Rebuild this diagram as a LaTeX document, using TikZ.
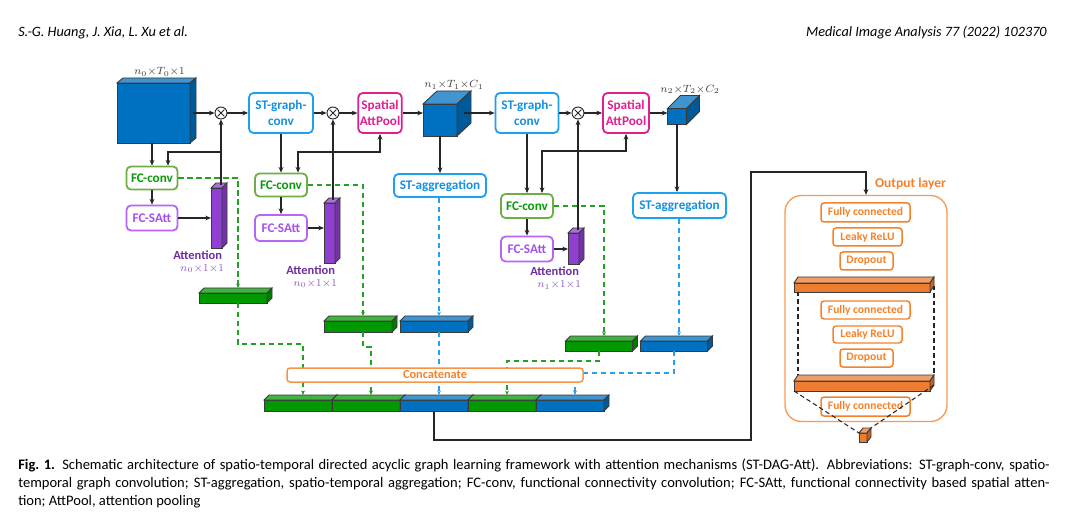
\documentclass[tikz,border=0pt]{standalone}
\usepackage{fontspec}
\setmainfont{Carlito}
\usetikzlibrary{positioning,arrows.meta,calc}
\definecolor{cBlue}{HTML}{0070C0}
\definecolor{cGreen}{HTML}{009A00}
\definecolor{cPurple}{HTML}{9040D0}
\definecolor{cOrange}{HTML}{ED7D31}
\definecolor{cConv}{HTML}{1EA0F0}
\definecolor{cConvT}{HTML}{1590E0}
\definecolor{cPool}{HTML}{E0208F}
\definecolor{cFC}{HTML}{70AD47}
\definecolor{cFCT}{HTML}{0A9A0A}
\definecolor{cSAtt}{HTML}{B865F5}
\definecolor{cSAttT}{HTML}{A650EC}
\definecolor{cAtt}{HTML}{7030A0}
\definecolor{cAttL}{HTML}{8C5CC0}
\definecolor{cOut}{HTML}{F5822A}
\definecolor{cLine}{HTML}{262626}
\definecolor{cEdge}{HTML}{3A3A3A}
\definecolor{cDim}{HTML}{404040}
\definecolor{cDashG}{HTML}{25A025}
\definecolor{cDashB}{HTML}{2A9FEF}
\newcommand{\pxu}{0.667pt}
\tikzset{
  blk/.style={rounded corners=3pt, draw, line width=1.2pt, fill=white, align=center,
              inner sep=1pt, font=\bfseries\fontsize{8.8}{10.5}\selectfont},
  gconv/.style={blk, draw=cConv, text=cConvT},
  apool/.style={blk, draw=cPool, text=cPool},
  fconv/.style={blk, draw=cFC, text=cFCT},
  fsatt/.style={blk, draw=cSAtt, text=cSAttT},
  catb/.style={blk, draw=cOut!85!white, text=cOut, rounded corners=2pt, line width=1pt,
               inner sep=0.5pt, font=\bfseries\fontsize{8.2}{9.5}\selectfont},
  outb/.style={blk, draw=cOut, text=cOut, line width=1pt, rounded corners=2pt, inner sep=0.5pt,
               font=\bfseries\fontsize{7.7}{9}\selectfont},
  face/.style={draw=cEdge, line width=0.6pt, inner sep=0pt, outer sep=0pt},
  dim/.style={font=\fontsize{7.5}{9}\selectfont, text=cDim, inner sep=1pt},
  attl/.style={font=\bfseries\fontsize{8.3}{10}\selectfont, text=cAtt, inner sep=0.5pt},
  otm/.style={circle, draw=cLine, line width=0.6pt, fill=white, minimum size=12*\pxu, inner sep=0pt,
              path picture={\draw[line width=0.6pt, cLine]
                ([shift={(-3.3,-3.3)}]path picture bounding box.center) -- ([shift={(3.3,3.3)}]path picture bounding box.center)
                ([shift={(-3.3,3.3)}]path picture bounding box.center) -- ([shift={(3.3,-3.3)}]path picture bounding box.center);}},
  ar/.style={-{Stealth[length=3.8pt,width=3.2pt]}, line width=0.8pt, draw=cLine},
  arb/.style={{Stealth[length=3.8pt,width=3.2pt]}-{Stealth[length=3.8pt,width=3.2pt]}, line width=0.8pt, draw=cLine},
  dg/.style={-{Stealth[length=3pt,width=2.6pt]}, line width=0.9pt, draw=cDashG, dash pattern=on 3.5pt off 2.5pt},
  db/.style={-{Stealth[length=3pt,width=2.6pt]}, line width=0.9pt, draw=cDashB, dash pattern=on 3.5pt off 2.5pt},
  dk/.style={line width=0.7pt, draw=black!85, dash pattern=on 3pt off 2pt},
  hdr/.style={font=\itshape\fontsize{9.5}{11}\selectfont, inner sep=0pt},
  capt/.style={align=left, inner sep=0pt, font=\fontsize{9.7}{11.7}\selectfont},
}
% front face as a node, top and right faces drawn from its anchors
% #1 name, #2 #3 centre, #4 #5 size, #6 #7 depth, #8 colour
\newcommand{\slab}[8]{%
  \node[face, fill=#8, minimum width=#4*\pxu, minimum height=#5*\pxu] (#1) at (#2,#3) {};
  \draw[face, fill=#8!75!white] (#1.north west) -- ++(#6,#7) -- ([shift={(#6,#7)}]#1.north east) -- (#1.north east) -- cycle;
  \draw[face, fill=#8!80!black] (#1.north east) -- ++(#6,#7) -- ([shift={(#6,#7)}]#1.south east) -- (#1.south east) -- cycle;
  \coordinate (#1-t) at ([shift={(#6/2,#7/2)}]#1.north);
  \coordinate (#1-b) at ([shift={(#6,#7)}]#1.north);
  \coordinate (#1-r) at ([shift={(#6/2,#7/2)}]#1.east);
  \coordinate (#1-nw) at ([shift={(#6,#7)}]#1.north west);
  \coordinate (#1-ne) at ([shift={(#6,#7)}]#1.north east);
  \coordinate (#1-se) at ([shift={(#6,#7)}]#1.south east);
}
\newcommand{\capline}[1]{\makebox[688pt][s]{#1}}

\begin{document}
\begin{tikzpicture}[x=\pxu, y=-\pxu]
  \useasboundingbox (0,0) rectangle (1092,530);
  \fill[white] (0,0) rectangle (1092,530);

  \node[hdr, anchor=west] (hdl) at (18,33) {S.-G. Huang, J. Xia, L. Xu et al.};
  \node[hdr, anchor=east] (hdrr) at (1047,33) {Medical Image Analysis 77 (2022) 102370};

  % main row
  \slab{in0}{153.5}{113}{73}{60}{6}{-5}{cBlue}
  \node[dim, above=0pt of in0-b] (din0) {$n_0{\times}T_0{\times}1$};
  \node[otm] (ot1) at (221,113) {};
  \node[gconv, minimum width=64*\pxu, minimum height=40*\pxu] (gc1) at (281,113) {ST-graph-\\conv};
  \node[otm] (ot2) at (333,113) {};
  \node[apool, minimum width=43*\pxu, minimum height=40*\pxu] (ap1) at (380,113) {Spatial\\AttPool};
  \slab{cb1}{440}{120}{34}{32}{14}{-13}{cBlue}
  \node[dim, above=0pt of cb1-b] (dcb1) {$n_1{\times}T_1{\times}C_1$};
  \node[gconv, minimum width=63*\pxu, minimum height=40*\pxu] (gc2) at (527,113) {ST-graph-\\conv};
  \node[otm] (ot3) at (578,113) {};
  \node[apool, minimum width=46*\pxu, minimum height=40*\pxu] (ap2) at (626,113) {Spatial\\AttPool};
  \slab{cb2}{677}{116.5}{19}{16}{13}{-13}{cBlue}
  \node[dim, above=0pt of cb2-b] (dcb2) {$n_2{\times}T_2{\times}C_2$};

  \node[gconv, minimum width=92*\pxu, minimum height=23*\pxu] (sa1) at (440,185.5) {ST-aggregation};
  \node[gconv, minimum width=93*\pxu, minimum height=25*\pxu] (sa2) at (679.5,205.5) {ST-aggregation};

  % attention branches
  \node[fconv, minimum width=51*\pxu, minimum height=23*\pxu] (fc1) at (152,178) {FC-conv};
  \node[fsatt, minimum width=51*\pxu, minimum height=25*\pxu] (fs1) at (152,218) {FC-SAtt};
  \slab{at1}{216.5}{218}{11}{60}{5}{-5}{cPurple}
  \node[attl, anchor=north east] (al1) at ([shift={(1,2)}]at1.south east) {Attention};
  \node[dim, text=cAttL, anchor=north east] (dl1) at ([shift={(3,2)}]al1.south east) {$n_0{\times}1{\times}1$};

  \node[fconv, minimum width=52*\pxu, minimum height=23*\pxu] (fc2) at (281,185) {FC-conv};
  \node[fsatt, minimum width=52*\pxu, minimum height=26*\pxu] (fs2) at (281,228) {FC-SAtt};
  \slab{at2}{329.5}{233}{11}{60}{5}{-5}{cPurple}
  \node[attl, anchor=north east] (al2) at ([shift={(1,2)}]at2.south east) {Attention};
  \node[dim, text=cAttL, anchor=north east] (dl2) at ([shift={(3,2)}]al2.south east) {$n_0{\times}1{\times}1$};

  \node[fconv, minimum width=52*\pxu, minimum height=24*\pxu] (fc3) at (527,206) {FC-conv};
  \node[fsatt, minimum width=52*\pxu, minimum height=25*\pxu] (fs3) at (527,249) {FC-SAtt};
  \slab{at3}{573.5}{248.5}{11}{31}{5}{-5}{cPurple}
  \node[attl, anchor=north east] (al3) at ([shift={(1,2)}]at3.south east) {Attention};
  \node[dim, text=cAttL, anchor=north east] (dl3) at ([shift={(3,2)}]al3.south east) {$n_1{\times}1{\times}1$};

  \draw[ar] (in0-r |- ot1) -- (ot1);
  \draw[ar] (ot1) -- (gc1);
  \draw[ar] (gc1) -- (ot2);
  \draw[ar] (ot2) -- (ap1);
  \draw[ar] (ap1) -- (ap1 -| cb1.west);
  \draw[ar] (cb1-r |- gc2) -- (gc2);
  \draw[ar] (gc2) -- (ot3);
  \draw[ar] (ot3) -- (ap2);
  \draw[ar] (ap2) -- (ap2 -| cb2.west);
  \draw[ar] (cb1.south) -- (sa1);
  \draw[ar] (cb2.south) -- (cb2.south |- sa2.north);

  \coordinate (j1) at (ot1 |- 0,152);
  \draw[ar] (fc1 |- in0.south) -- (fc1);
  \draw[ar] (ot1 |- at1-t) -- (ot1);
  \draw[ar] (j1) -| ([shift={(16,0)}]fc1.north);
  \draw[ar] (fc1) -- (fs1);
  \draw[ar] (fs1) -- (fs1 -| at1.west);

  \draw[ar] (gc1) -- (fc2);
  \draw[arb] (ap1.south) -- (ap1.south |- 0,152) -| ([shift={(17,0)}]fc2.north);
  \draw[ar] (ot2 |- at2-t) -- (ot2);
  \draw[ar] (fc2) -- (fs2);
  \draw[ar] (fs2) -- (fs2 -| at2.west);

  \draw[ar] (gc2.south) -- (gc2.south |- fc3.north);
  \draw[arb] (ap2.south) -- (ap2.south |- 0,151) -| ([shift={(15,0)}]fc3.north);
  \draw[ar] (ot3 |- at3-t) -- (ot3);
  \draw[ar] (fc3) -- (fs3);
  \draw[ar] (fs3) -- (fs3 -| at3.west);

  % feature vectors
  \slab{gb1}{233}{298}{68}{10}{5}{-5}{cGreen}
  \slab{gb2}{358}{326.5}{68}{11}{5}{-5}{cGreen}
  \slab{bb2}{434}{326.5}{68}{11}{5}{-5}{cBlue}
  \slab{gb3}{599}{346}{67}{10}{5}{-5}{cGreen}
  \slab{bb3}{674}{346}{67}{10}{5}{-5}{cBlue}
  \slab{cc1}{298}{405.5}{68}{11}{5}{-5}{cGreen}
  \slab{cc2}{366}{405.5}{68}{11}{5}{-5}{cGreen}
  \slab{cc3}{434}{405.5}{68}{11}{5}{-5}{cBlue}
  \slab{cc4}{502}{405.5}{68}{11}{5}{-5}{cGreen}
  \slab{cc5}{570}{405.5}{68}{11}{5}{-5}{cBlue}

  \draw[dg] (fc1.east) -| (gb1-b);
  \draw[dg] (gb1-b |- gb1.south) -- (gb1-b |- 0,344) -| (cc1-b);
  \draw[dg] (fc2.east) -| (gb2-b);
  \draw[dg] (gb2-b |- gb2.south) -- (gb2-b |- 0,347) -| (cc2-b);
  \draw[db] (sa1.south -| bb2-b) -- (bb2-b);
  \draw[db] (bb2-b |- bb2.south) -- (cc3-b);
  \draw[dg] (fc3.east) -| (gb3-b);
  \draw[dg] (gb3.south) -- (gb3.south |- 0,361) -| (cc4-b);
  \draw[db] (sa2.south -| bb3-b) -- (bb3-b);
  \draw[db] (bb3.south) -- (bb3.south |- 0,373) -| (cc5-b);

  \node[catb, minimum width=296*\pxu, minimum height=14*\pxu] (cat) at (435,375) {Concatenate};

  % output layer
  \node[outb, fill=none, draw=cOut!80!white, rounded corners=11pt, line width=0.9pt,
        minimum width=162*\pxu, minimum height=226*\pxu] (outl) at (866,308.5) {};
  \node[font=\bfseries\fontsize{9}{10}\selectfont, text=cOut, inner sep=1pt, anchor=south east]
        (outt) at ([shift={(0,-3)}]outl.north east) {Output layer};
  \coordinate (bnd) at (751,440);
  \draw[ar] (cc3.south) |- (bnd) |- (outl.north |- 0,172) -- (outl.north);

  \node[outb, minimum width=89*\pxu, minimum height=19*\pxu] (fcA) at (865.5,212.5) {Fully connected};
  \node[outb, minimum width=69*\pxu, minimum height=18*\pxu] (lrA) at (867.5,237) {Leaky ReLU};
  \node[outb, minimum width=53*\pxu, minimum height=18*\pxu] (doA) at (866.5,261) {Dropout};
  \slab{obar1}{862}{287.5}{136}{9}{4}{-6}{cOrange}
  \node[outb, minimum width=89*\pxu, minimum height=18*\pxu] (fcB) at (865.5,310) {Fully connected};
  \node[outb, minimum width=69*\pxu, minimum height=17*\pxu] (lrB) at (867.5,334.5) {Leaky ReLU};
  \node[outb, minimum width=53*\pxu, minimum height=18*\pxu] (doB) at (866.5,358) {Dropout};
  \slab{obar2}{862}{386}{136}{10}{4}{-6}{cOrange}
  \node[outb, fill=none, minimum width=89*\pxu, minimum height=19*\pxu] (fcC) at (865.5,406.5) {Fully connected};
  \slab{ocube}{863}{437.5}{8}{9}{4}{-5}{cOrange}
  \draw[dk] (obar2-nw |- obar1.south) -- (obar2-nw);
  \draw[dk] (obar1-se) -- (obar2-ne);
  \draw[dk] (obar2.south west) -- (ocube.north west);
  \draw[dk] (obar2-se) -- (ocube-ne);

  \node[capt, anchor=north west] (cap) at (18,459)
    {\capline{\textbf{Fig.~1.}\enspace Schematic architecture of spatio-temporal directed acyclic graph learning framework with attention mechanisms (ST-DAG-Att). Abbreviations: ST-graph-conv, spatio-}\\
     \capline{temporal graph convolution; ST-aggregation, spatio-temporal aggregation; FC-conv, functional connectivity convolution; FC-SAtt, functional connectivity based spatial atten-}\\
     tion; AttPool, attention pooling};
\end{tikzpicture}
\end{document}
